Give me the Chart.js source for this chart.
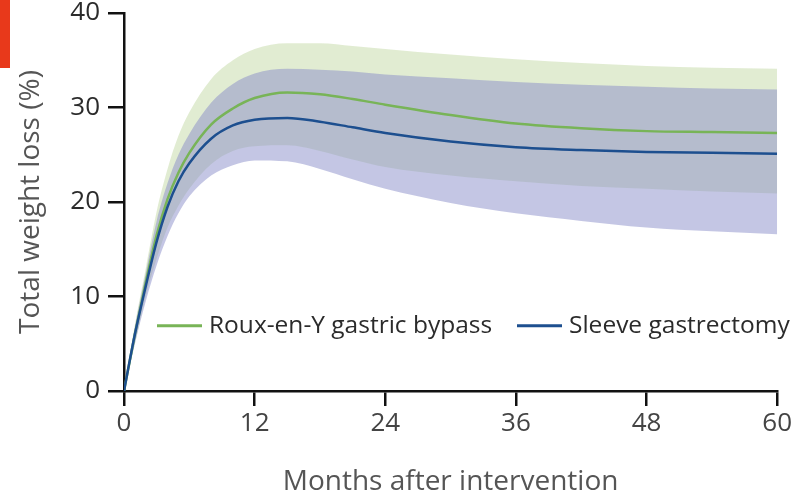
<!DOCTYPE html>
<html>
<head>
<meta charset="utf-8">
<script src="https://cdn.jsdelivr.net/npm/chart.js@4/dist/chart.umd.min.js"></script>
<style>
  html, body { margin: 0; padding: 0; background: #fff; }
  #wrap { position: relative; width: 794px; height: 496px; }
  #mark { position: absolute; left: 0; top: 0; width: 10px; height: 68px; background: #e8391b; }
</style>
</head>
<body>
<div id="wrap">
  <canvas id="chart" width="794" height="496"></canvas>
  <div id="mark"></div>
</div>
<script>
// months after intervention
var months = [0, 1, 2, 3, 4, 5, 6, 8, 10, 12, 15, 18, 21, 24, 30, 36, 42, 48, 54, 60];

// Roux-en-Y gastric bypass: mean and band
var rygbMean  = [0, 6, 11.5, 16.5, 20.3, 23.1, 25.2, 28.2, 29.9, 31.0, 31.6, 31.4, 30.9, 30.3, 29.2, 28.3, 27.8, 27.5, 27.4, 27.3];
var rygbUpper = [0, 7, 13, 19, 23.5, 27, 29.5, 33, 35, 36.2, 36.8, 36.8, 36.5, 36.2, 35.6, 35.1, 34.7, 34.4, 34.2, 34.1];
var rygbLower = [0, 5, 10, 14, 17.3, 19.6, 21.4, 24.0, 25.4, 25.9, 26.0, 25.4, 24.5, 23.7, 22.8, 22.2, 21.7, 21.4, 21.1, 20.9];

// Sleeve gastrectomy: mean and band
var sgMean  = [0, 6, 11.1, 15.8, 19.5, 22.2, 24.1, 26.7, 28.1, 28.7, 28.9, 28.5, 27.9, 27.3, 26.4, 25.8, 25.5, 25.3, 25.2, 25.1];
var sgUpper = [0, 6.8, 12.5, 18, 22, 25, 27.2, 30.5, 32.5, 33.6, 34.1, 34.0, 33.8, 33.5, 33.1, 32.7, 32.4, 32.2, 32.0, 31.9];
var sgLower = [0, 5, 9.5, 13.3, 16.4, 18.8, 20.6, 22.8, 23.9, 24.4, 24.3, 23.5, 22.4, 21.4, 19.9, 18.8, 18.0, 17.3, 16.9, 16.6];

var xTicks = [0, 12, 24, 36, 48, 60];
var yTicks = [0, 10, 20, 30, 40];
var seriesNames = ['Roux-en-Y gastric bypass', 'Sleeve gastrectomy'];

var GREEN = '#78b457';
var BLUE = '#1d4f8f';
var FONT = '"Open Sans", sans-serif';
var TEXT = '#2b2b2b';

function pts(ys) {
    return months.map(function (m, i) { return { x: m, y: ys[i] }; });
}

function line(label, ys, color, width, fill, bg) {
    return {
        label: label,
        data: pts(ys),
        borderColor: color,
        borderWidth: width,
        backgroundColor: bg || 'transparent',
        fill: fill || false,
        pointRadius: 0,
        cubicInterpolationMode: 'monotone'
    };
}

// legend sits inside the plot area, like the original
var innerLegend = {
    id: 'innerLegend',
    afterDraw: function (chart) {
        var ctx = chart.ctx, area = chart.chartArea;
        var y = chart.scales.y.getPixelForValue(6.9);
        var items = [
            { text: seriesNames[0], color: GREEN, x: area.left + 33 },
            { text: seriesNames[1], color: BLUE, x: area.left + 393 }
        ];
        ctx.save();
        ctx.font = '24.5px ' + FONT;
        ctx.textBaseline = 'middle';
        ctx.fillStyle = TEXT;
        items.forEach(function (it) {
            ctx.strokeStyle = it.color;
            ctx.lineWidth = 3;
            ctx.beginPath();
            ctx.moveTo(it.x, y);
            ctx.lineTo(it.x + 45, y);
            ctx.stroke();
            ctx.fillText(it.text, it.x + 52, y);
        });
        ctx.restore();
    }
};

var ctx = document.getElementById('chart').getContext('2d');
new Chart(ctx, {
    type: 'line',
    data: {
        datasets: [
            line(seriesNames[1], sgMean, BLUE, 2.5),
            line(seriesNames[0], rygbMean, GREEN, 2.5),
            line('sgUpper', sgUpper, 'transparent', 0, '+1', 'rgba(137,141,201,0.5)'),
            line('sgLower', sgLower, 'transparent', 0),
            line('rygbUpper', rygbUpper, 'transparent', 0, '+1', 'rgba(180,207,142,0.4)'),
            line('rygbLower', rygbLower, 'transparent', 0)
        ]
    },
    options: {
        responsive: false,
        animation: false,
        layout: { padding: { left: 0, right: 16, top: 3, bottom: 0 } },
        plugins: {
            legend: { display: false },
            tooltip: { enabled: false }
        },
        scales: {
            x: {
                type: 'linear',
                min: 0,
                max: 60,
                afterBuildTicks: function (axis) {
                    axis.ticks = xTicks.map(function (v) { return { value: v }; });
                },
                afterFit: function (axis) { axis.height = 105; },
                border: { color: '#111', width: 2.5 },
                grid: { drawOnChartArea: false, color: '#111', lineWidth: 2.5, tickLength: 15 },
                ticks: { color: '#444', font: { family: FONT, size: 26 }, padding: 2 },
                title: { display: true, text: 'Months after intervention', color: '#555', font: { family: FONT, size: 28, lineHeight: 1.0 }, padding: { bottom: 0 } }
            },
            y: {
                min: 0,
                max: 40,
                afterBuildTicks: function (axis) {
                    axis.ticks = yTicks.map(function (v) { return { value: v }; });
                },
                afterFit: function (axis) { axis.width = 124; axis.paddingTop = 13; },
                border: { color: '#111', width: 2.5 },
                grid: { drawOnChartArea: false, color: '#111', lineWidth: 2.5, tickLength: 16 },
                ticks: { color: TEXT, font: { family: FONT, size: 26 }, padding: 8 },
                title: { display: true, text: 'Total weight loss (%)', color: '#555', font: { family: FONT, size: 28 }, padding: { top: 14 } }
            }
        }
    },
    plugins: [innerLegend]
});
</script>
</body>
</html>
